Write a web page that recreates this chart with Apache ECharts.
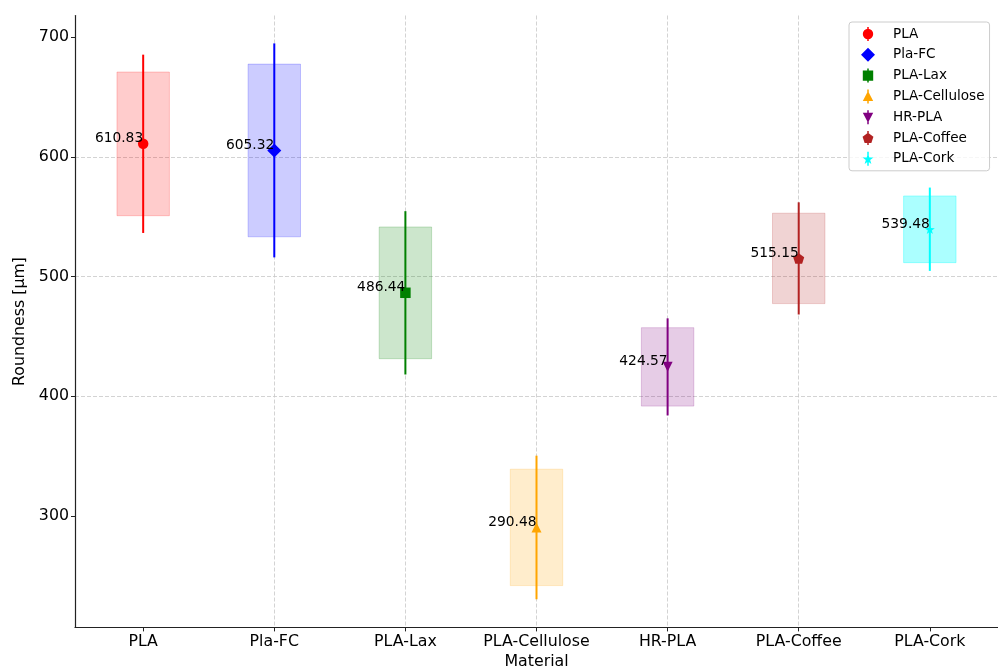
<!DOCTYPE html>
<html><head><meta charset="utf-8">
<script src="https://cdn.jsdelivr.net/npm/echarts@6/dist/echarts.min.js"></script>
<style>html,body{margin:0;padding:0;background:#fff}#c{width:998px;height:669px}</style>
</head><body><div id="c"></div>
<script>
// ---- data ----
const categories = ['PLA', 'Pla-FC', 'PLA-Lax', 'PLA-Cellulose', 'HR-PLA', 'PLA-Coffee', 'PLA-Cork'];
const means   = [610.83, 605.32, 486.44, 290.48, 424.57, 515.15, 539.48];
const boxLow  = [550.8, 533.2, 431.4, 241.9, 391.8, 477.4, 511.6];
const boxHigh = [670.8, 677.4, 541.4, 339.1, 457.3, 552.9, 567.3];
const errLow  = [536.4, 516.0, 418.2, 230.5, 384.0, 468.3, 504.7];
const errHigh = [685.3, 694.7, 554.6, 350.4, 465.1, 562.0, 574.3];
const yTicks  = [300, 400, 500, 600, 700];

// ---- styles ----
const colors = ['#ff0000', '#0000ff', '#008000', '#ffa500', '#800080', '#b22222', '#00ffff'];
const boxAlpha = [0.2, 0.2, 0.2, 0.2, 0.2, 0.2, 0.33];
const FONT = 'DejaVu Sans';
const TICK_FS = 15.8;

function hexA(hex, a) {
  const n = parseInt(hex.slice(1), 16);
  return 'rgba(' + ((n >> 16) & 255) + ',' + ((n >> 8) & 255) + ',' + (n & 255) + ',' + a + ')';
}
function polyPath(cx, cy, radii, count) {
  let d = '';
  const n = count * radii.length;
  for (let k = 0; k < n; k++) {
    const r = radii[k % radii.length];
    const ang = (-90 + k * 360 / n) * Math.PI / 180;
    const x = (cx + r * Math.cos(ang)).toFixed(3), y = (cy + r * Math.sin(ang)).toFixed(3);
    d += (k === 0 ? 'M' : 'L') + x + ',' + y;
  }
  return d + 'Z';
}
// legend icons live in a 14x14 box (tiny corner specks fix the bounding box)
const frame = 'M0,0H0.01V0.01H0Z M13.99,13.99H14V14H13.99Z';
function vline(cx) { return 'M' + (cx - 0.75) + ',0H' + (cx + 0.75) + 'V14H' + (cx - 0.75) + 'Z'; }

const pentD = polyPath(5.5, 6.2, [5.5], 5);
const starD = polyPath(5.5, 6.2, [5.5, 2.2], 5);

const legendIcons = [
  'path://' + frame + 'M1.8,7A5.2,5.2,0,1,1,12.2,7A5.2,5.2,0,1,1,1.8,7Z' + vline(7),
  'path://' + frame + 'M7,0L14,7L7,14L0,7Z',
  'path://' + frame + 'M1.8,1.8H12.2V12.2H1.8Z' + vline(7),
  'path://' + frame + 'M7,1.5L12.2,11.5L1.8,11.5Z' + vline(7),
  'path://' + frame + 'M1.8,2.5H12.2L7,12.5Z' + vline(7),
  'path://' + frame + polyPath(7, 7.5, [5.7], 5) + vline(7),
  'path://' + frame + polyPath(7, 7.5, [5.7, 2.3], 5) + vline(7)
];
const plotSymbols = ['circle', 'diamond', 'rect', 'triangle', 'triangle', 'path://' + pentD, 'path://' + starD];
const plotSizes = [10.5, 14, 10.5, 10, 10, [11, 10.5], [10, 9.5]];
const plotRotate = [0, 0, 0, 0, 180, 0, 0];

const series = [];
// boxes
series.push({
  type: 'custom', z: 1, silent: true,
  data: categories.map((c, i) => [i, boxLow[i], boxHigh[i]]),
  encode: { x: 0, y: [1, 2] },
  renderItem: (params, api) => {
    const i = params.dataIndex;
    const a = api.coord([api.value(0) - 0.2, api.value(2)]);
    const b = api.coord([api.value(0) + 0.2, api.value(1)]);
    return {
      type: 'rect',
      shape: { x: a[0], y: a[1], width: b[0] - a[0], height: b[1] - a[1] },
      style: { fill: hexA(colors[i], boxAlpha[i]), stroke: hexA(colors[i], boxAlpha[i]), lineWidth: 1 }
    };
  }
});
// error lines
series.push({
  type: 'custom', z: 2, silent: true,
  data: categories.map((c, i) => [i, errLow[i], errHigh[i]]),
  encode: { x: 0, y: [1, 2] },
  renderItem: (params, api) => {
    const i = params.dataIndex;
    const a = api.coord([api.value(0), api.value(1)]);
    const b = api.coord([api.value(0), api.value(2)]);
    return {
      type: 'line',
      shape: { x1: a[0], y1: a[1], x2: b[0], y2: b[1] },
      style: { stroke: colors[i], lineWidth: 2 }
    };
  }
});
// markers
categories.forEach((c, i) => {
  series.push({
    type: 'scatter', name: c, z: 3,
    data: [[i, means[i]]],
    symbol: plotSymbols[i], symbolSize: plotSizes[i], symbolRotate: plotRotate[i],
    itemStyle: { color: colors[i], opacity: 1 },
    emphasis: { disabled: true }
  });
});
// value labels
series.push({
  type: 'custom', z: 5, silent: true,
  data: means.map((m, i) => [i, m]),
  encode: { x: 0, y: 1 },
  renderItem: (params, api) => {
    const p = api.coord([api.value(0), api.value(1)]);
    return {
      type: 'text', x: p[0], y: p[1] + 2,
      style: { text: means[params.dataIndex].toFixed(2), align: 'right', verticalAlign: 'bottom',
               fontSize: 13.8, fontFamily: FONT, fill: '#000' }
    };
  }
});

const chart = echarts.init(document.getElementById('c'), null, { renderer: 'canvas' });
chart.setOption({
  animation: false,
  backgroundColor: '#fff',
  grid: { left: 75, right: 0, top: 15.5, bottom: 41.6, containLabel: false, outerBoundsMode: 'none' },
  xAxis: {
    type: 'value', min: -0.52, max: 6.52, splitNumber: 7,
    name: 'Material', nameLocation: 'middle', nameGap: 25,
    nameTextStyle: { fontSize: TICK_FS, fontFamily: FONT, color: '#000' },
    axisLine: { show: true, onZero: false, lineStyle: { color: '#222', width: 1.2 } },
    axisTick: { show: true, length: 4, customValues: categories.map((c, i) => i), lineStyle: { color: '#222', width: 1 } },
    axisLabel: { customValues: categories.map((c, i) => i), formatter: v => categories[Math.round(v)] || '',
                 fontSize: TICK_FS, fontFamily: FONT, color: '#000', margin: 6 },
    splitLine: { show: true, showMinLine: false, showMaxLine: false, lineStyle: { color: '#c8c8c8', width: 0.8, type: [4, 2] } }
  },
  yAxis: {
    type: 'value', min: 207, max: 718, splitNumber: 5,
    name: 'Roundness [µm]', nameLocation: 'middle', nameGap: 44,
    nameTextStyle: { fontSize: TICK_FS, fontFamily: FONT, color: '#000' },
    axisLine: { show: true, onZero: false, lineStyle: { color: '#222', width: 1.2 } },
    axisTick: { show: true, length: 4, customValues: yTicks, lineStyle: { color: '#222', width: 1 } },
    axisLabel: { customValues: yTicks, fontSize: TICK_FS, fontFamily: FONT, color: '#000', margin: 6 },
    splitLine: { show: true, showMinLine: false, showMaxLine: false, lineStyle: { color: '#c8c8c8', width: 0.8, type: [4, 2] } }
  },
  legend: {
    orient: 'vertical', left: 849, top: 22,
    padding: [5, 5, 5, 12],
    itemWidth: 14, itemHeight: 14, itemGap: 6.8,
    backgroundColor: 'rgba(255,255,255,0.8)', borderColor: '#cccccc', borderWidth: 1, borderRadius: 3,
    formatter: name => '{t|' + name + '}',
    textStyle: { fontSize: 13.6, fontFamily: FONT, color: '#000',
                 rich: { t: { fontSize: 13.6, fontFamily: FONT, color: '#000', padding: [0, 0, 0, 13] } } },
    selectedMode: false,
    data: categories.map((c, i) => ({ name: c, icon: legendIcons[i], itemStyle: { color: colors[i] } }))
  },
  series: series
});
</script>
</body></html>
